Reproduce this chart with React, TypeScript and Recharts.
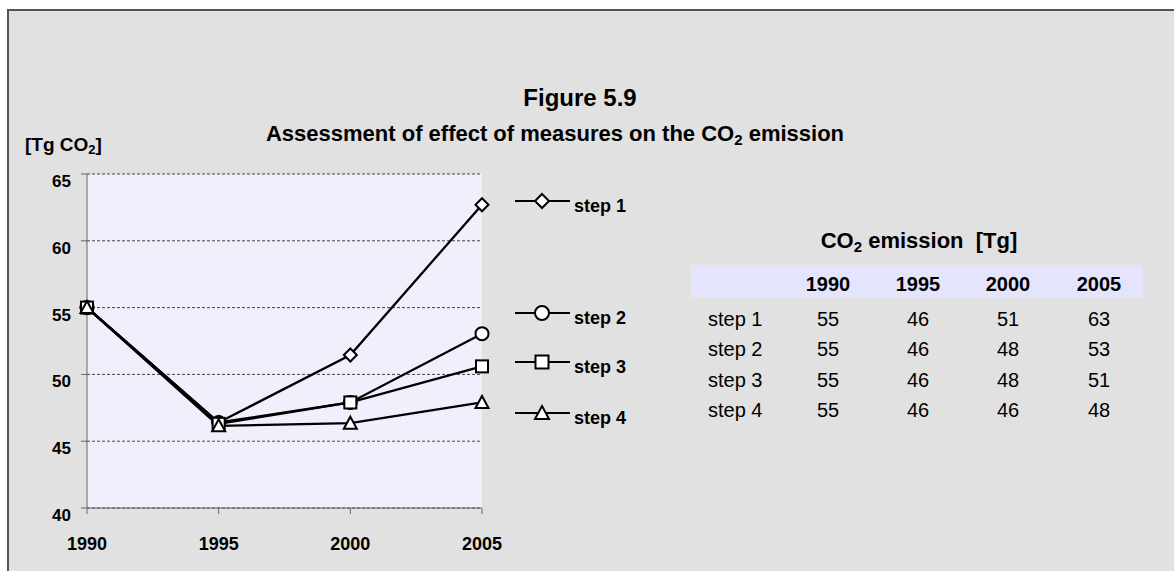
import React from 'react';
import { LineChart, Line, XAxis, YAxis, CartesianGrid, Legend } from 'recharts';

const years = ['1990', '1995', '2000', '2005'];
const step1 = [55, 46.4, 51.45, 62.7];
const step2 = [55, 46.4, 47.9, 53.05];
const step3 = [55, 46.3, 47.9, 50.6];
const step4 = [55, 46.15, 46.35, 47.9];
const seriesKeys = ['step1', 'step2', 'step3', 'step4'];
const seriesNames = ['step 1', 'step 2', 'step 3', 'step 4'];
const markerShapes = ['diamond', 'circle', 'square', 'triangle'];
const yTicks = [40, 45, 50, 55, 60, 65];

const seriesValues = [step1, step2, step3, step4];
const chartData = years.map((year, i) => {
  const row: Record<string, number | string> = { year };
  seriesKeys.forEach((k, s) => (row[k] = seriesValues[s][i]));
  return row;
});

const FONT = 'Arial, "Liberation Sans", sans-serif';

// legend row centres (px from legend top) - Excel spaced them unevenly
const legendRowY = [11, 123, 172, 223];
// table layout
const colX = [828, 918, 1008, 1099];
const rowBaseY = [326, 356, 386.5, 417];

const Marker = ({ shape, cx, cy, size = 12 }: { shape: string; cx: number; cy: number; size?: number }) => {
  const h = size / 2;
  const st = { fill: '#fff', stroke: '#000', strokeWidth: 2 };
  if (shape === 'diamond') {
    return <polygon points={`${cx},${cy - h} ${cx + h},${cy} ${cx},${cy + h} ${cx - h},${cy}`} {...st} />;
  }
  if (shape === 'circle') return <circle cx={cx} cy={cy} r={h} {...st} />;
  if (shape === 'square') return <rect x={cx - h + 0.5} y={cy - h + 0.5} width={size - 1} height={size - 1} {...st} />;
  return <polygon points={`${cx},${cy - h} ${cx + h},${cy + h - 1} ${cx - h},${cy + h - 1}`} {...st} />;
};

const YTick = ({ x, y, payload }: any) => (
  <text x={x} y={y + 13} textAnchor="end" fontFamily={FONT} fontWeight="bold" fontSize={17} fill="#000">
    {payload.value}
  </text>
);

const XTick = ({ x, y, payload }: any) => (
  <text x={x} y={y + 34} textAnchor="middle" fontFamily={FONT} fontWeight="bold" fontSize={18} fill="#000">
    {payload.value}
  </text>
);

const LegendContent = ({ payload }: any) => (
  <svg width={170} height={240} style={{ overflow: 'visible', display: 'block' }}>
    {(payload || []).map((entry: any) => {
      const idx = seriesNames.indexOf(entry.value);
      const y = legendRowY[idx];
      return (
        <g key={entry.value}>
          <line x1={10} x2={65} y1={y} y2={y} stroke="#000" strokeWidth={2} />
          <Marker shape={markerShapes[idx]} cx={37} cy={y} size={14} />
          <text x={69} y={y + 11} fontFamily={FONT} fontWeight="bold" fontSize={18} fill="#000">
            {entry.value}
          </text>
        </g>
      );
    })}
  </svg>
);

export default function App() {
  return (
    <div style={{ position: 'fixed', left: 0, top: 0, width: 1174, height: 571, fontFamily: FONT }}>
      <div
        style={{
          position: 'absolute',
          left: 7,
          top: 9,
          width: 1167,
          height: 562,
          boxSizing: 'border-box',
          background: '#e1e1e1',
          borderTop: '2px solid #555',
          borderLeft: '2px solid #555',
        }}
      />
      <div style={{ position: 'absolute', left: 0, top: 0 }}>
        <LineChart width={700} height={571} data={chartData} margin={{ top: 174, right: 218, left: 27, bottom: 33 }}>
          <CartesianGrid vertical={false} stroke="#444" strokeDasharray="3 2" fill="#f0f0fd" />
          <XAxis
            dataKey="year"
            height={30}
            axisLine={{ stroke: '#666' }}
            tickLine={{ stroke: '#666' }}
            tickSize={6}
            tick={<XTick />}
          />
          <YAxis
            type="number"
            domain={[40, 65]}
            ticks={yTicks}
            width={60}
            axisLine={{ stroke: '#666' }}
            tickLine={{ stroke: '#666' }}
            tickSize={6}
            tickMargin={10}
            tick={<YTick />}
          />
          {seriesKeys.map((k, i) => (
            <Line
              key={k}
              type="linear"
              dataKey={k}
              name={seriesNames[i]}
              stroke="#000"
              strokeWidth={2.3}
              isAnimationActive={false}
              activeDot={false}
              dot={(p: any) => <Marker key={`${k}-${p.index}`} shape={markerShapes[i]} cx={p.cx} cy={p.cy} size={13} />}
            />
          ))}
          <Legend
            layout="vertical"
            align="center"
            verticalAlign="middle"
            content={<LegendContent />}
            wrapperStyle={{ left: 505, top: 190, width: 170 }}
          />
        </LineChart>
      </div>
      <svg width={1174} height={571} style={{ position: 'absolute', left: 0, top: 0, pointerEvents: 'none' }}>
        <g fontFamily={FONT} fill="#000">
          <text x={580} y={106} textAnchor="middle" fontWeight="bold" fontSize={24}>
            Figure 5.9
          </text>
          <text x={555} y={141} textAnchor="middle" fontWeight="bold" fontSize={22}>
            Assessment of effect of measures on the CO
            <tspan dy={4} fontSize={15}>2</tspan>
            <tspan dy={-4}> emission</tspan>
          </text>
          <text x={25} y={151} fontWeight="bold" fontSize={19}>
            [Tg CO<tspan dy={3} fontSize={13}>2</tspan>
            <tspan dy={-3}>]</tspan>
          </text>

          <text x={919} y={248} textAnchor="middle" fontWeight="bold" fontSize={22} style={{ whiteSpace: 'pre' }}>
            CO<tspan dy={4} fontSize={15}>2</tspan>
            <tspan dy={-4}>{' emission  [Tg]'}</tspan>
          </text>
          <rect x={691} y={265} width={452} height={33} fill="#e4e4fc" />
          {years.map((y, c) => (
            <text key={y} x={colX[c]} y={291} textAnchor="middle" fontWeight="bold" fontSize={20}>
              {y}
            </text>
          ))}
          {seriesNames.map((name, r) => (
            <g key={name}>
              <text x={708} y={rowBaseY[r]} fontSize={20}>
                {name}
              </text>
              {seriesValues[r].map((v, c) => (
                <text key={c} x={colX[c]} y={rowBaseY[r]} textAnchor="middle" fontSize={20}>
                  {Math.round(v)}
                </text>
              ))}
            </g>
          ))}
        </g>
      </svg>
    </div>
  );
}
